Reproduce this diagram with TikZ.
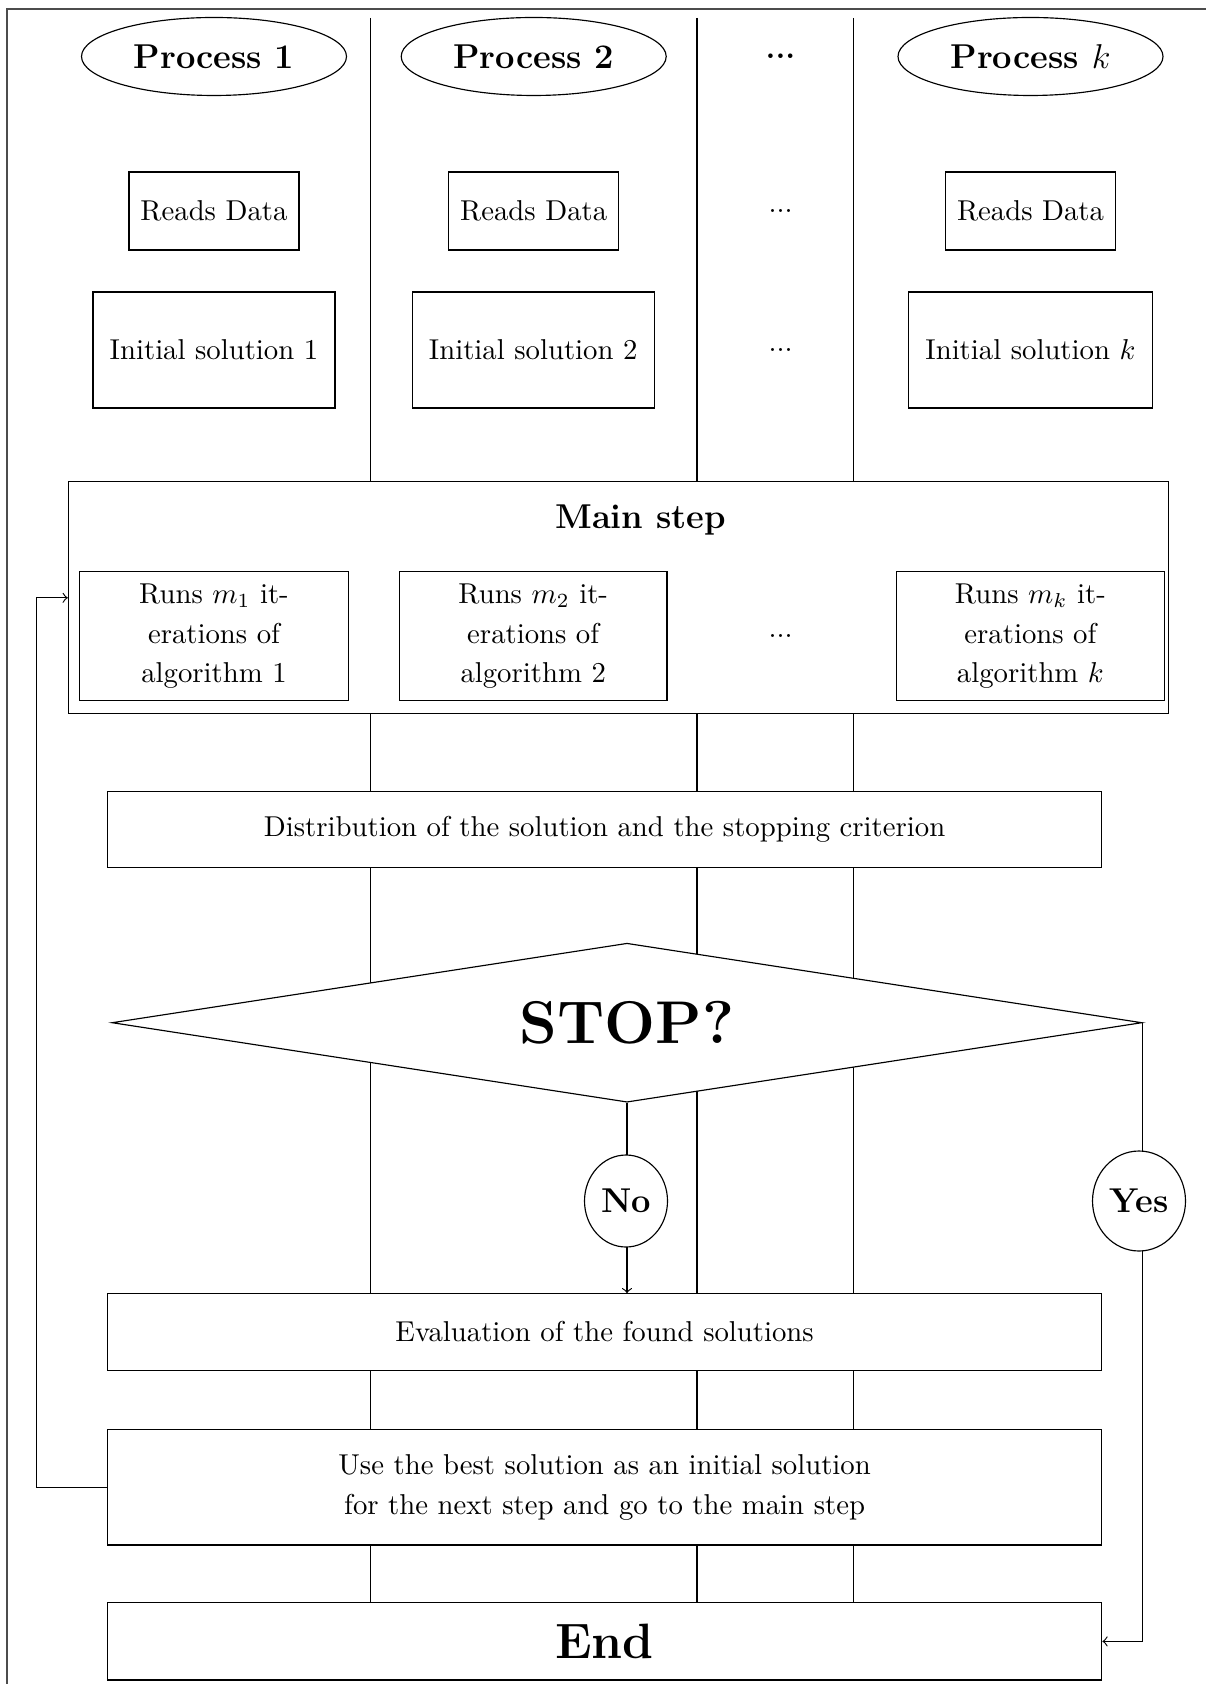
\documentclass[tikz,border=0pt]{standalone}
\usetikzlibrary{shapes.geometric}
\def\pxu{0.348pt}
\tikzset{
  lane/.style={draw=black, line width=0.4pt},
  box/.style={draw, fill=white, rectangle, inner sep=0pt, align=center,
    font=\fontsize{10}{13.8}\selectfont},
  proc/.style={draw, fill=white, ellipse, inner sep=0pt,
    font=\fontsize{12}{14}\selectfont\bfseries},
  dotsn/.style={inner sep=0pt, font=\fontsize{10}{12}\selectfont},
  dotstop/.style={inner sep=0pt, font=\fontsize{11}{13}\selectfont\bfseries},
  circ/.style={draw, fill=white, ellipse, inner sep=0pt,
    font=\fontsize{12}{14}\selectfont\bfseries},
  every path/.style={line width=0.4pt}
}
\begin{document}
\begin{tikzpicture}[x=0.348pt, y=-0.348pt]
\useasboundingbox (0,0) rectangle (1206,1684);
% frame
\draw[black!70, line width=0.6pt] (7,1684) -- (7,9) -- (1206,9);
% lanes
\draw[lane] (370.5,18) -- (370.5,1641);
\draw[lane] (697,18) -- (697,1641);
\draw[lane] (853.5,18) -- (853.5,1641);

% process heads
\node[proc, minimum width=265*\pxu, minimum height=78*\pxu] (p1) at (214,56.5) {Process 1};
\node[proc, minimum width=265*\pxu, minimum height=78*\pxu] (p2) at (533.7,56.5) {Process 2};
\node[dotstop] (pd) at (780.5,56.5) {...};
\node[proc, minimum width=265*\pxu, minimum height=78*\pxu] (pk) at (1030.5,56.5) {Process $k$};

% reads data
\node[box, minimum width=170*\pxu, minimum height=78*\pxu] (rd1) at (214,211) {Reads Data};
\node[box, minimum width=170*\pxu, minimum height=78*\pxu] (rd2) at (533.7,211) {Reads Data};
\node[dotsn] (rdd) at (780.5,211) {...};
\node[box, minimum width=170*\pxu, minimum height=78*\pxu] (rdk) at (1030.5,211) {Reads Data};

% initial solutions
\node[box, minimum width=242*\pxu, minimum height=116*\pxu] (is1) at (214,350) {Initial solution 1};
\node[box, minimum width=242*\pxu, minimum height=116*\pxu] (is2) at (533.2,350) {Initial solution 2};
\node[dotsn] (isd) at (780.5,349.5) {...};
\node[box, minimum width=244*\pxu, minimum height=116*\pxu] (isk) at (1030.4,350) {Initial solution $k$};

% main step
\node[box, minimum width=1100*\pxu, minimum height=232*\pxu] (main) at (618.4,597.8) {};
\node[inner sep=0pt, font=\fontsize{12}{14}\selectfont\bfseries] (mainlbl) at (640.5,520) {Main step};
\node[box, minimum width=269*\pxu, minimum height=129*\pxu] (r1) at (214,636.4)
  {Runs $m_1$ it-\\erations of\\algorithm 1};
\node[box, minimum width=267.5*\pxu, minimum height=129*\pxu] (r2) at (533.2,636.4)
  {Runs $m_2$ it-\\erations of\\algorithm 2};
\node[dotsn] (rdots) at (780.5,636) {...};
\node[box, minimum width=267.5*\pxu, minimum height=129*\pxu] (rk) at (1030.4,636.4)
  {Runs $m_k$ it-\\erations of\\algorithm $k$};

% distribution
\node[box, minimum width=994.4*\pxu, minimum height=76*\pxu] (dist) at (604.6,829.6)
  {Distribution of the solution and the stopping criterion};

% stop diamond
\node[draw, fill=white, diamond, aspect=6.5, inner sep=0pt,
  minimum width=1030*\pxu, minimum height=159*\pxu,
  font=\fontsize{21}{25}\selectfont\bfseries] (stop) at (627,1022.7) {STOP?};

% evaluation, best, end
\node[box, minimum width=994.4*\pxu, minimum height=76.3*\pxu] (eval) at (604.6,1332)
  {Evaluation of the found solutions};
\node[box, minimum width=994.4*\pxu, minimum height=115.6*\pxu] (best) at (604.6,1487.2)
  {Use the best solution as an initial solution\\for the next step and go to the main step};
\node[box, minimum width=994.4*\pxu, minimum height=77.3*\pxu,
  font=\fontsize{17.28}{20}\selectfont\bfseries] (end) at (604.6,1641.4) {End};

% connectors
\coordinate (loopx) at (36.7,1487.2);
\draw[->] (best.west) -- (loopx) |- (main.west);
\draw[->] (stop.south) -- (stop.south |- eval.north);
\draw[->] (stop.east) |- (end.east);

% yes / no labels
\node[circ, minimum width=83*\pxu, minimum height=92*\pxu] (no) at (626,1201) {No};
\node[circ, minimum width=93*\pxu, minimum height=100*\pxu] (yes) at (1139,1201) {Yes};
\end{tikzpicture}
\end{document}
